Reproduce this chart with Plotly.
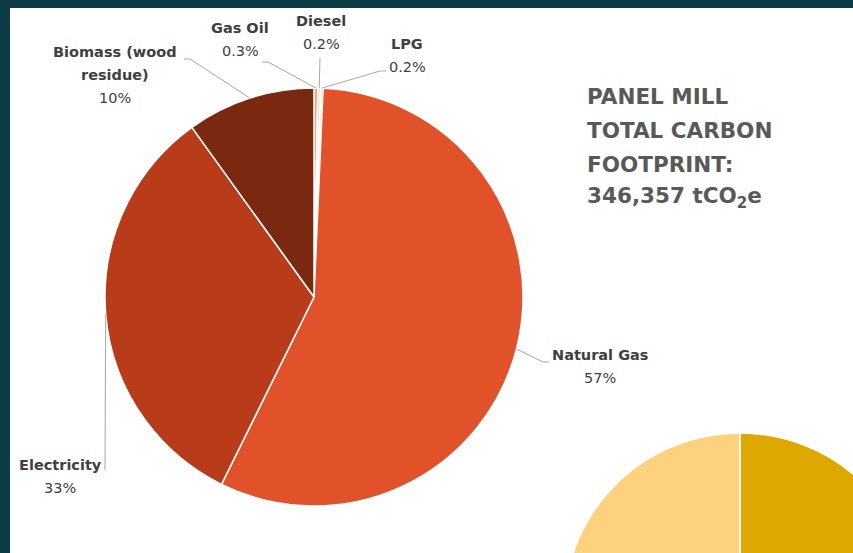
import math
import plotly.graph_objects as go

# Panel mill carbon footprint by energy source (share of total, %)
sources = ["Gas Oil", "Diesel", "LPG", "Natural Gas", "Electricity", "Biomass (wood<br>residue)"]
shares = [0.3, 0.2, 0.2, 57, 33, 10]
slice_colors = ["#f3a47c", "#f7c8ad", "#fbe3d4", "#e2522a", "#b83c1a", "#7b2810"]

# Neighbouring chart, only its top edge shows
side_parts = ["Segment A", "Segment B"]
side_values = [50, 50]
side_colors = ["#dfa800", "#fdd27f"]

title_lines = ["PANEL MILL", "TOTAL CARBON", "FOOTPRINT:", "346,357 tCO<sub>2</sub>e"]

# ---- canvas geometry (pixels) ----
W, H = 920, 790
BORDER = "#0b3c45"
TEXT = "#404040"
LEADER = "#a6a6a6"
FONT = "DejaVu Sans"
LABEL_SIZE = 14.5
TITLE_SIZE = 21.5
LINE_GAP = 23


def px(x):
    return x / W


def py(y):
    return 1 - y / H


# main pie: centre and radius in pixels
CX, CY, R = 314, 297, 209
# side pie
SCX, SCY, SR = 740, 609, 176

fig = go.Figure()

fig.add_trace(go.Pie(
    labels=sources,
    values=shares,
    sort=False,
    direction="clockwise",
    rotation=0,
    marker=dict(colors=slice_colors, line=dict(color="white", width=1.5)),
    textinfo="none",
    hoverinfo="label+value",
    domain=dict(x=[px(CX - R), px(CX + R)], y=[py(CY + R), py(CY - R)]),
    showlegend=False,
))

fig.add_trace(go.Pie(
    labels=side_parts,
    values=side_values,
    sort=False,
    direction="clockwise",
    rotation=0,
    marker=dict(colors=side_colors, line=dict(color="white", width=1.5)),
    textinfo="none",
    domain=dict(x=[px(SCX - SR), px(SCX + SR)], y=[py(SCY + SR), py(SCY - SR)]),
    showlegend=False,
))

# label placement per slice: (centre x, first line y), leader bend points after the slice edge
label_layout = {
    "Gas Oil": ((240, 28), [(268, 62), (262, 62)]),
    "Diesel": ((321, 21), [(320, 58)]),
    "LPG": ((407, 44), [(380, 71), (386, 71)]),
    "Natural Gas": ((600, 355), [(543, 362), (549, 362)]),
    "Electricity": ((60, 465), [(105, 470)]),
    "Biomass (wood<br>residue)": ((115, 52), [(190, 59), (184, 59)]),
}

shapes = [
    # white panel inside the dark frame
    dict(type="rect", xref="paper", yref="paper", x0=px(10), x1=1, y0=0, y1=py(8),
         fillcolor="white", line=dict(width=0), layer="below"),
]
annotations = []


def text_line(x, y, text, size, color, anchor="center"):
    return dict(
        x=px(x), y=py(y), xref="paper", yref="paper",
        xanchor=anchor, yanchor="middle", showarrow=False,
        text=text, font=dict(family=FONT, size=size, color=color),
    )


total = sum(shares)
acc = 0.0
for name, value in zip(sources, shares):
    mid = (acc + value / 2) / total * 2 * math.pi
    acc += value
    ex = CX + R * math.sin(mid)
    ey = CY - R * math.cos(mid)
    (lx, ly), bends = label_layout[name]
    pts = [(ex, ey)] + bends
    path = "M " + " L ".join(f"{px(x):.5f},{py(y):.5f}" for x, y in pts)
    shapes.append(dict(type="path", xref="paper", yref="paper", path=path,
                       line=dict(color=LEADER, width=1)))
    lines = [f"<b>{part}</b>" for part in name.split("<br>")] + [f"{value:g}%"]
    for k, line in enumerate(lines):
        annotations.append(text_line(lx, ly + LINE_GAP * k, line, LABEL_SIZE, TEXT))

for i, line in enumerate(title_lines):
    annotations.append(text_line(585, 97 + 33.5 * i, f"<b>{line}</b>", TITLE_SIZE, "#595959", "left"))

fig.update_layout(
    width=W, height=H,
    margin=dict(l=0, r=0, t=0, b=0),
    paper_bgcolor=BORDER,
    plot_bgcolor=BORDER,
    shapes=shapes,
    annotations=annotations,
    showlegend=False,
)

fig.write_html(
    "out.html",
    post_script="document.documentElement.style.overflow='hidden';"
                "document.body.style.overflow='hidden';document.body.style.margin='0';",
)
